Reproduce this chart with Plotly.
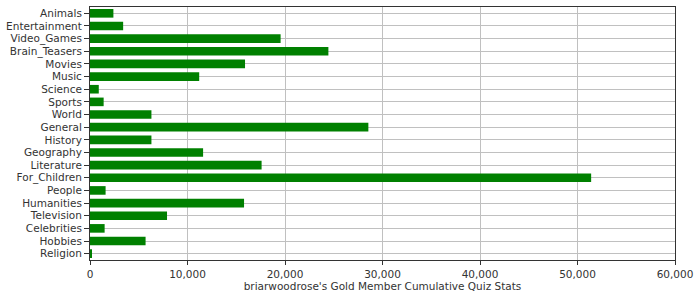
import plotly.graph_objects as go

categories = ["Animals", "Entertainment", "Video_Games", "Brain_Teasers", "Movies",
              "Music", "Science", "Sports", "World", "General", "History",
              "Geography", "Literature", "For_Children", "People", "Humanities",
              "Television", "Celebrities", "Hobbies", "Religion"]
values = [2400, 3400, 19550, 24450, 15900, 11200, 900, 1400, 6300, 28550, 6300,
          11600, 17600, 51400, 1600, 15800, 7900, 1500, 5700, 170]
x_title = "briarwoodrose's Gold Member Cumulative Quiz Stats"

fig = go.Figure(go.Bar(
    x=values, y=categories, orientation="h",
    marker=dict(color="#008000", line=dict(width=0)),
))

fig.update_layout(
    width=700, height=300,
    margin=dict(l=87, r=25, t=6, b=40),
    paper_bgcolor="white", plot_bgcolor="white",
    bargap=0.32,
    font=dict(family="DejaVu Sans", size=10.5, color="#333333"),
    showlegend=False,
)
fig.update_xaxes(
    range=[0, 60000], dtick=10000, tickformat=",d",
    showgrid=True, gridcolor="#c0c0c0", gridwidth=1,
    showline=True, linecolor="#333333", linewidth=1, mirror=True,
    ticks="outside", ticklen=4, tickcolor="#333333",
    zeroline=False,
    title=dict(text=x_title, standoff=4, font=dict(size=10.5)),
    tickfont=dict(size=10.5),
)
fig.update_yaxes(
    categoryorder="array", categoryarray=categories, autorange="reversed",
    tickmode="array", tickvals=categories, ticktext=categories,
    showgrid=True, gridcolor="#c0c0c0", gridwidth=1,
    showline=True, linecolor="#333333", linewidth=1, mirror=True,
    ticks="outside", ticklen=5, tickcolor="#333333",
    tickfont=dict(size=10.5),
)

fig.write_html("out.html")
